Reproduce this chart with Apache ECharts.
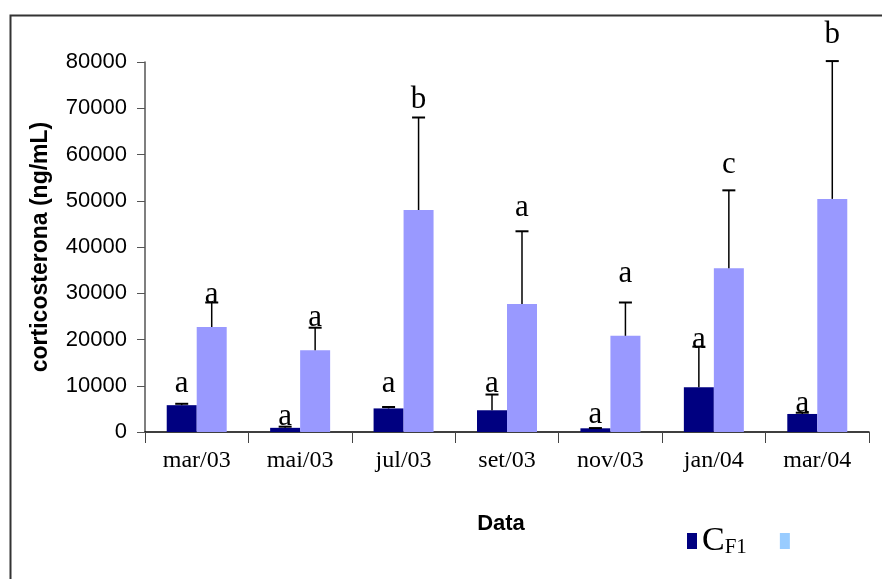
<!DOCTYPE html>
<html>
<head>
<meta charset="utf-8">
<script src="https://cdn.jsdelivr.net/npm/echarts@6/dist/echarts.min.js"></script>
<style>
html,body{margin:0;padding:0;background:#fff;}
#chart{width:882px;height:579px;}
</style>
</head>
<body>
<div id="chart"></div>
<script>
// ---- data ----
const categories = ['mar/03','mai/03','jul/03','set/03','nov/03','jan/04','mar/04'];
const cf1Values   = [5800, 900, 5100, 4700, 800, 9700, 3900];
const cf1Errors   = [300, 250, 300, 3400, 50, 8750, 270];
const secondValues = [22700, 17700, 48000, 27700, 20800, 35400, 50400];
const secondErrors = [5300, 4850, 20000, 15700, 7200, 16850, 29800];
const cf1Letters    = ['a','a','a','a','a','a','a'];
const secondLetters = ['a','a','b','a','a','c','b'];
// heights (in ng/mL) at which the significance letters sit
const cf1LetterLevel    = [10400, 3300, 10400, 10400, 3700, 20000, 6050];
const secondLetterLevel = [29600, 24600, 71800, 48400, 34300, 57700, 85800];
const yTicks = {min: 0, max: 80000, interval: 10000};

const DARK = '#000080', LIGHT = '#9999FF';
const BAR_FRAC = 0.145; // half of a bar width relative to the band

function errData(vals, errs){ return vals.map((v,i)=>[i, v, errs[i]]); }
function letterData(levels, letters){ return levels.map((v,i)=>[i, v, letters[i]]); }

function errRenderer(sign){
  return function(params, api){
    const i = api.value(0), v = api.value(1), e = api.value(2);
    const band = api.size([1,0])[0];
    const p0 = api.coord([i, v]);
    const p1 = api.coord([i, v + e]);
    const x = p0[0] + sign * band * BAR_FRAC;
    return {type:'group', children:[
      {type:'line', shape:{x1:x, y1:p0[1], x2:x, y2:p1[1]}, style:{stroke:'#000', lineWidth:1.5}},
      {type:'line', shape:{x1:x-6.5, y1:p1[1], x2:x+6.5, y2:p1[1]}, style:{stroke:'#000', lineWidth:2}}
    ]};
  };
}
function letterRenderer(sign){
  return function(params, api){
    const i = api.value(0), v = api.value(1);
    const band = api.size([1,0])[0];
    const p = api.coord([i, v]);
    const x = p[0] + sign * band * BAR_FRAC;
    return {type:'text', x:x, y:p[1], style:{text: api.value(2), fontFamily:'Liberation Serif', fontSize:31, fill:'#000', align:'center', verticalAlign:'middle'}};
  };
}

const chart = echarts.init(document.getElementById('chart'), null, {renderer:'canvas'});
chart.setOption({
  animation:false,
  backgroundColor:'#fff',
  graphic:[{type:'rect', left:8, top:13, shape:{x:0,y:0,width:1000,height:1000}, style:{fill:'none', stroke:'#333', lineWidth:2}, z:-1}],
  grid:{left:145, right:13, top:62, bottom:147, containLabel:false},
  legend:{
    left:682, top:519, itemWidth:10, itemHeight:16, itemGap:33, icon:'rect',
    data:[{name:'CF1', itemStyle:{color:DARK}}, {name:'second', itemStyle:{color:'#99CCFF'}}],
    formatter: function(name){ return name === 'CF1' ? '{c|C}{s|F1}' : ''; },
    textStyle:{fontFamily:'Liberation Serif', color:'#000',
      rich:{c:{fontSize:34, fontFamily:'Liberation Serif', color:'#000'},
            s:{fontSize:21, fontFamily:'Liberation Serif', color:'#000', verticalAlign:'bottom'}}}
  },
  xAxis:{
    type:'category', data:categories,
    name:'Data', nameLocation:'middle', nameGap:81,
    nameTextStyle:{fontFamily:'Liberation Sans', fontWeight:'bold', fontSize:22, color:'#000', padding:[0,12,0,0]},
    axisLine:{lineStyle:{color:'#000', width:1.5}},
    axisTick:{show:true, length:11, lineStyle:{color:'#444'}, alignWithLabel:false},
    axisLabel:{fontFamily:'Liberation Serif', fontSize:24, color:'#000', margin:17, interval:0}
  },
  yAxis:{
    type:'value', min:yTicks.min, max:yTicks.max, interval:yTicks.interval,
    name:'corticosterona (ng/mL)', nameLocation:'middle', nameGap:93,
    nameTextStyle:{fontFamily:'Liberation Sans', fontWeight:'bold', fontSize:23, color:'#000'},
    axisLine:{show:true, lineStyle:{color:'#555', width:1.5}},
    axisTick:{show:true, length:8, lineStyle:{color:'#555'}},
    axisLabel:{fontFamily:'Liberation Sans', fontSize:22, color:'#000', margin:18, formatter: function(v){ return String(v); }},
    splitLine:{show:false}
  },
  series:[
    {name:'CF1', type:'bar', data:cf1Values, itemStyle:{color:DARK}, barGap:'0%', barCategoryGap:'42%'},
    {name:'second', type:'bar', data:secondValues, itemStyle:{color:LIGHT}},
    {type:'custom', renderItem:errRenderer(-1), data:errData(cf1Values, cf1Errors), clip:false, z:3},
    {type:'custom', renderItem:errRenderer(1), data:errData(secondValues, secondErrors), clip:false, z:3},
    {type:'custom', renderItem:letterRenderer(-1), data:letterData(cf1LetterLevel, cf1Letters), clip:false, z:4},
    {type:'custom', renderItem:letterRenderer(1), data:letterData(secondLetterLevel, secondLetters), clip:false, z:4}
  ]
});
</script>
</body>
</html>
